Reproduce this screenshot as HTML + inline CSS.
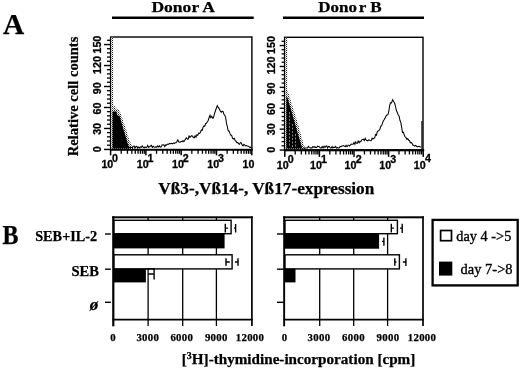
<!DOCTYPE html>
<html><head><meta charset="utf-8">
<style>
html,body{margin:0;padding:0;background:#fff;}
body{width:520px;height:368px;overflow:hidden;font-family:"Liberation Serif",serif;}
svg{display:block;will-change:transform;}
text{font-family:"Liberation Serif",serif;fill:#000;}
.b{font-weight:bold;stroke:#000;stroke-width:0.25px;}
.sn{font-family:"Liberation Sans",sans-serif;font-weight:bold;font-size:10.7px;stroke:#000;stroke-width:0.3px;}
</style></head><body>
<svg width="520" height="368" viewBox="0 0 520 368">
<defs>
<pattern id="dz" width="2" height="2" patternUnits="userSpaceOnUse"><rect width="2" height="2" fill="#fff"/><rect width="1" height="1" fill="#222"/><rect x="1" y="1" width="1" height="1" fill="#888"/></pattern>
</defs>
<rect width="520" height="368" fill="#fff"/>
<!-- panel letters -->
<text x="2.9" y="33.8" class="b" font-size="28.6" textLength="21.2" lengthAdjust="spacingAndGlyphs">A</text>
<text x="2.4" y="243.6" class="b" font-size="26.8" textLength="16" lengthAdjust="spacingAndGlyphs">B</text>
<!-- Donor headers -->
<text x="183.2" y="12" class="b" font-size="15.3" text-anchor="middle" textLength="63.5" lengthAdjust="spacingAndGlyphs">Donor A</text>
<rect x="112" y="16.5" width="141.7" height="2.5" fill="#000"/>
<text x="349.9" y="12.4" class="b" font-size="15.3" text-anchor="middle" textLength="63.5" lengthAdjust="spacingAndGlyphs">Dono<tspan dx="1.6">r</tspan> B</text>
<rect x="283" y="16.5" width="141" height="2.5" fill="#000"/>

<!-- Plot A -->
<rect x="110.6" y="37" width="141.3" height="112.7" fill="#fff" stroke="#000" stroke-width="1.4"/>
<rect x="111.3" y="37.7" width="1.9" height="111" fill="url(#dz)"/>
<polygon points="112.3,149 112.3,105.6 114.5,106 116,108.5 118.5,109.5 120.5,113 125.4,127.6 129.4,140.6 132.7,147 134,149" fill="url(#dz)"/>
<polygon points="112.6,148.6 112.6,111.5 116.4,111.5 117.2,115 119.7,116.2 122.9,127.6 125.4,135.7 127.8,143.9 129.4,148.6" fill="#000"/>
<polyline points="129.0,146.8 129.9,147.6 130.7,147.1 131.6,147.6 132.4,147.7 133.3,146.2 134.1,146.0 135.0,148.0 135.9,146.5 136.8,146.4 137.7,148.0 138.6,147.0 139.5,147.9 140.5,146.9 141.4,147.3 142.3,146.0 143.2,147.2 144.1,147.8 145.0,146.9 145.9,147.4 146.8,147.2 147.7,145.5 148.6,147.3 149.5,146.8 150.5,146.0 151.4,145.3 152.3,147.4 153.2,146.3 154.1,146.9 155.0,147.3 155.9,146.8 156.8,147.3 157.7,145.9 158.6,146.9 159.4,145.9 160.3,147.1 161.2,146.9 162.1,144.8 163.0,144.9 163.9,144.8 164.8,146.5 165.6,144.9 166.5,145.2 167.4,144.1 168.2,144.4 169.1,143.8 170.0,143.5 170.9,143.8 171.7,143.4 172.6,143.9 173.5,143.0 174.3,143.3 175.2,142.8 176.1,142.8 176.9,141.6 177.8,139.9 178.7,141.8 179.5,142.2 180.4,142.1 181.3,141.3 182.1,141.8 183.0,140.5 183.9,141.6 184.8,140.3 185.6,138.9 186.5,137.8 187.4,139.2 188.2,139.0 189.1,136.0 190.0,137.3 190.9,136.3 191.7,135.7 192.6,136.2 193.4,137.5 194.3,137.8 195.1,135.7 196.0,137.3 196.9,134.7 197.8,135.2 198.7,133.1 199.5,133.3 200.4,132.4 201.3,130.0 202.2,130.3 203.0,127.5 203.9,125.9 204.8,126.2 205.6,123.7 206.5,123.1 207.4,121.8 208.2,120.5 209.1,117.5 210.0,115.3 210.8,117.6 211.7,116.3 212.6,118.1 213.4,118.0 214.4,113.8 215.4,111.0 216.3,108.3 217.3,105.7 218.3,107.4 219.4,109.1 220.4,111.1 221.3,112.2 222.1,111.4 223.0,111.5 223.9,114.3 224.7,115.1 225.6,117.3 226.5,123.4 227.3,126.5 228.2,130.9 229.1,130.9 229.9,133.4 230.8,135.2 231.6,135.2 232.5,138.1 233.4,139.0 234.3,138.4 235.2,140.7 236.0,141.2 236.9,142.6 237.8,142.6 238.7,143.8 239.5,144.2 240.4,142.6 241.3,143.0 242.1,144.9 243.0,145.9 243.9,144.4 244.8,145.2 245.6,145.9 246.5,145.5 247.4,146.0 248.2,146.2 249.1,146.6 250.0,147.5 250.8,147.1 251.5,148.0" fill="none" stroke="#000" stroke-width="1.05" stroke-linejoin="miter"/>
<rect x="110" y="148.8" width="142.6" height="1.8" fill="#000"/>
<rect x="104.0" y="148.75" width="6.5" height="1.4" fill="#000"/>
<rect x="107.0" y="144.55" width="3.5" height="1.3" fill="#000"/>
<rect x="107.0" y="140.36" width="3.5" height="1.3" fill="#000"/>
<rect x="107.0" y="136.16" width="3.5" height="1.3" fill="#000"/>
<rect x="107.0" y="131.97" width="3.5" height="1.3" fill="#000"/>
<rect x="104.0" y="127.77" width="6.5" height="1.4" fill="#000"/>
<rect x="107.0" y="123.57" width="3.5" height="1.3" fill="#000"/>
<rect x="107.0" y="119.38" width="3.5" height="1.3" fill="#000"/>
<rect x="107.0" y="115.18" width="3.5" height="1.3" fill="#000"/>
<rect x="107.0" y="110.99" width="3.5" height="1.3" fill="#000"/>
<rect x="104.0" y="106.79" width="6.5" height="1.4" fill="#000"/>
<rect x="107.0" y="102.59" width="3.5" height="1.3" fill="#000"/>
<rect x="107.0" y="98.40" width="3.5" height="1.3" fill="#000"/>
<rect x="107.0" y="94.20" width="3.5" height="1.3" fill="#000"/>
<rect x="107.0" y="90.01" width="3.5" height="1.3" fill="#000"/>
<rect x="104.0" y="85.81" width="6.5" height="1.4" fill="#000"/>
<rect x="107.0" y="81.61" width="3.5" height="1.3" fill="#000"/>
<rect x="107.0" y="77.42" width="3.5" height="1.3" fill="#000"/>
<rect x="107.0" y="73.22" width="3.5" height="1.3" fill="#000"/>
<rect x="107.0" y="69.03" width="3.5" height="1.3" fill="#000"/>
<rect x="104.0" y="64.83" width="6.5" height="1.4" fill="#000"/>
<rect x="107.0" y="60.63" width="3.5" height="1.3" fill="#000"/>
<rect x="107.0" y="56.44" width="3.5" height="1.3" fill="#000"/>
<rect x="107.0" y="52.24" width="3.5" height="1.3" fill="#000"/>
<rect x="107.0" y="48.05" width="3.5" height="1.3" fill="#000"/>
<rect x="104.0" y="43.85" width="6.5" height="1.4" fill="#000"/>
<rect x="107.0" y="39.65" width="3.5" height="1.3" fill="#000"/>
<rect x="109.85" y="149.7" width="1.5" height="5.6" fill="#000"/>
<rect x="120.58" y="149.7" width="1.3" height="4.1" fill="#000"/>
<rect x="126.79" y="149.7" width="1.3" height="4.1" fill="#000"/>
<rect x="131.20" y="149.7" width="1.3" height="4.1" fill="#000"/>
<rect x="134.62" y="149.7" width="1.3" height="4.1" fill="#000"/>
<rect x="137.42" y="149.7" width="1.3" height="4.1" fill="#000"/>
<rect x="139.78" y="149.7" width="1.3" height="4.1" fill="#000"/>
<rect x="141.83" y="149.7" width="1.3" height="4.1" fill="#000"/>
<rect x="143.63" y="149.7" width="1.3" height="4.1" fill="#000"/>
<rect x="145.15" y="149.7" width="1.5" height="5.6" fill="#000"/>
<rect x="155.88" y="149.7" width="1.3" height="4.1" fill="#000"/>
<rect x="162.09" y="149.7" width="1.3" height="4.1" fill="#000"/>
<rect x="166.50" y="149.7" width="1.3" height="4.1" fill="#000"/>
<rect x="169.92" y="149.7" width="1.3" height="4.1" fill="#000"/>
<rect x="172.72" y="149.7" width="1.3" height="4.1" fill="#000"/>
<rect x="175.08" y="149.7" width="1.3" height="4.1" fill="#000"/>
<rect x="177.13" y="149.7" width="1.3" height="4.1" fill="#000"/>
<rect x="178.93" y="149.7" width="1.3" height="4.1" fill="#000"/>
<rect x="180.45" y="149.7" width="1.5" height="5.6" fill="#000"/>
<rect x="191.18" y="149.7" width="1.3" height="4.1" fill="#000"/>
<rect x="197.39" y="149.7" width="1.3" height="4.1" fill="#000"/>
<rect x="201.80" y="149.7" width="1.3" height="4.1" fill="#000"/>
<rect x="205.22" y="149.7" width="1.3" height="4.1" fill="#000"/>
<rect x="208.02" y="149.7" width="1.3" height="4.1" fill="#000"/>
<rect x="210.38" y="149.7" width="1.3" height="4.1" fill="#000"/>
<rect x="212.43" y="149.7" width="1.3" height="4.1" fill="#000"/>
<rect x="214.23" y="149.7" width="1.3" height="4.1" fill="#000"/>
<rect x="215.75" y="149.7" width="1.5" height="5.6" fill="#000"/>
<rect x="226.48" y="149.7" width="1.3" height="4.1" fill="#000"/>
<rect x="232.69" y="149.7" width="1.3" height="4.1" fill="#000"/>
<rect x="237.10" y="149.7" width="1.3" height="4.1" fill="#000"/>
<rect x="240.52" y="149.7" width="1.3" height="4.1" fill="#000"/>
<rect x="243.32" y="149.7" width="1.3" height="4.1" fill="#000"/>
<rect x="245.68" y="149.7" width="1.3" height="4.1" fill="#000"/>
<rect x="247.73" y="149.7" width="1.3" height="4.1" fill="#000"/>
<rect x="249.53" y="149.7" width="1.3" height="4.1" fill="#000"/>
<rect x="251.05" y="149.7" width="1.5" height="5.6" fill="#000"/>
<text x="113.3" y="167.8" class="sn" text-anchor="end">10</text>
<text x="112.1" y="162.3" class="sn">0</text>
<text x="148.6" y="167.8" class="sn" text-anchor="end">10</text>
<text x="147.4" y="162.3" class="sn">1</text>
<text x="183.9" y="167.8" class="sn" text-anchor="end">10</text>
<text x="182.7" y="162.3" class="sn">2</text>
<text x="219.2" y="167.8" class="sn" text-anchor="end">10</text>
<text x="218.0" y="162.3" class="sn">3</text>
<text x="254.5" y="167.8" class="sn" text-anchor="end">10</text>
<text transform="translate(100.7,149.4) rotate(-90)" class="sn" text-anchor="middle">0</text>
<text transform="translate(100.7,128.9) rotate(-90)" class="sn" text-anchor="middle">30</text>
<text transform="translate(100.7,108.6) rotate(-90)" class="sn" text-anchor="middle">60</text>
<text transform="translate(100.7,88.2) rotate(-90)" class="sn" text-anchor="middle">90</text>
<text transform="translate(100.7,65.0) rotate(-90)" class="sn" text-anchor="middle">120</text>
<text transform="translate(100.7,44.6) rotate(-90)" class="sn" text-anchor="middle">150</text>

<!-- Plot B -->
<rect x="284.6" y="37.3" width="138.4" height="113" fill="#fff" stroke="#000" stroke-width="1.4"/>
<rect x="285.3" y="37.7" width="1.9" height="111" fill="url(#dz)"/>
<polygon points="286,149 286,89 287.5,91 289.5,96 291,101.3 295.4,115.4 299.8,130.6 303.7,144.8 305.5,149" fill="url(#dz)"/>
<polygon points="286.4,148.6 286.4,97 287.5,97.5 288.9,102.4 293.3,117.6 297.6,132.8 300.9,143.7 302.4,148.6" fill="#000"/>
<path d="M289.5 112V147M292.5 124V147M295.5 134V147" stroke="#fff" stroke-width="0.5" stroke-dasharray="2 1.5"/>
<polyline points="303.0,148.0 303.9,148.0 304.8,148.0 305.7,148.0 306.6,148.0 307.5,148.0 308.4,146.4 309.3,147.4 310.2,148.0 311.1,147.8 312.0,148.0 312.9,146.5 313.9,147.3 314.8,146.7 315.7,147.4 316.6,147.5 317.6,146.1 318.5,146.6 319.4,146.8 320.4,148.0 321.3,147.9 322.2,146.4 323.1,147.9 324.1,146.3 325.0,147.5 325.9,146.3 326.8,146.0 327.6,148.0 328.5,146.5 329.4,146.5 330.3,148.0 331.2,148.0 332.1,146.6 332.9,148.0 333.8,147.2 334.7,147.5 335.6,146.4 336.5,148.0 337.4,147.5 338.2,148.0 339.1,148.0 340.0,146.5 340.9,146.6 341.8,146.0 342.6,145.9 343.5,145.6 344.4,146.1 345.2,146.7 346.1,145.2 347.0,146.7 347.9,145.6 348.8,145.1 349.6,146.0 350.5,144.9 351.4,144.1 352.2,144.2 353.1,144.3 354.0,142.4 354.9,144.4 355.7,141.9 356.6,143.3 357.4,143.3 358.2,141.1 359.1,142.7 359.9,141.4 360.8,141.7 361.7,139.8 362.6,139.4 363.4,139.2 364.3,140.6 365.2,138.3 366.1,139.9 366.9,140.6 367.8,140.9 368.7,139.8 369.5,140.1 370.4,140.8 371.3,140.6 372.1,138.2 373.0,139.0 373.8,138.4 374.7,137.8 375.6,134.4 376.4,135.2 377.3,131.8 378.1,131.0 379.0,130.3 379.9,129.3 380.8,126.1 381.6,125.8 382.5,123.1 383.4,120.8 384.3,119.5 385.2,117.7 386.0,116.1 386.9,114.9 387.8,114.8 388.7,112.0 389.5,106.6 390.4,102.8 391.5,102.9 392.6,99.7 393.6,101.5 394.7,103.3 395.6,107.0 396.4,110.5 397.3,112.5 398.2,114.7 399.1,116.1 400.0,120.5 400.8,122.4 401.7,127.6 402.5,132.5 403.4,132.2 404.3,135.0 405.1,136.9 406.0,137.5 406.9,139.3 407.8,138.5 408.6,140.2 409.5,140.4 410.3,142.9 411.2,142.5 412.1,143.4 412.9,145.2 413.8,145.3 414.7,146.1 415.5,145.4 416.4,146.0 417.3,146.8 418.2,146.4 419.0,146.2 419.9,146.7 420.8,147.2" fill="none" stroke="#000" stroke-width="1.05" stroke-linejoin="miter"/>
<line x1="421.9" y1="121" x2="421.9" y2="149" stroke="#000" stroke-width="1.1"/>
<rect x="284" y="149.1" width="140.2" height="2.2" fill="#000"/>
<rect x="279.7" y="149.35" width="4.6" height="1.4" fill="#000"/>
<rect x="281.6" y="145.17" width="2.7" height="1.3" fill="#000"/>
<rect x="281.6" y="140.99" width="2.7" height="1.3" fill="#000"/>
<rect x="281.6" y="136.81" width="2.7" height="1.3" fill="#000"/>
<rect x="281.6" y="132.63" width="2.7" height="1.3" fill="#000"/>
<rect x="279.7" y="128.45" width="4.6" height="1.4" fill="#000"/>
<rect x="281.6" y="124.27" width="2.7" height="1.3" fill="#000"/>
<rect x="281.6" y="120.09" width="2.7" height="1.3" fill="#000"/>
<rect x="281.6" y="115.91" width="2.7" height="1.3" fill="#000"/>
<rect x="281.6" y="111.73" width="2.7" height="1.3" fill="#000"/>
<rect x="279.7" y="107.55" width="4.6" height="1.4" fill="#000"/>
<rect x="281.6" y="103.37" width="2.7" height="1.3" fill="#000"/>
<rect x="281.6" y="99.19" width="2.7" height="1.3" fill="#000"/>
<rect x="281.6" y="95.01" width="2.7" height="1.3" fill="#000"/>
<rect x="281.6" y="90.83" width="2.7" height="1.3" fill="#000"/>
<rect x="279.7" y="86.65" width="4.6" height="1.4" fill="#000"/>
<rect x="281.6" y="82.47" width="2.7" height="1.3" fill="#000"/>
<rect x="281.6" y="78.29" width="2.7" height="1.3" fill="#000"/>
<rect x="281.6" y="74.11" width="2.7" height="1.3" fill="#000"/>
<rect x="281.6" y="69.93" width="2.7" height="1.3" fill="#000"/>
<rect x="279.7" y="65.75" width="4.6" height="1.4" fill="#000"/>
<rect x="281.6" y="61.57" width="2.7" height="1.3" fill="#000"/>
<rect x="281.6" y="57.39" width="2.7" height="1.3" fill="#000"/>
<rect x="281.6" y="53.21" width="2.7" height="1.3" fill="#000"/>
<rect x="281.6" y="49.03" width="2.7" height="1.3" fill="#000"/>
<rect x="279.7" y="44.85" width="4.6" height="1.4" fill="#000"/>
<rect x="281.6" y="40.67" width="2.7" height="1.3" fill="#000"/>
<rect x="284.05" y="150.4" width="1.5" height="6.5" fill="#000"/>
<rect x="294.57" y="150.4" width="1.3" height="4.1" fill="#000"/>
<rect x="300.66" y="150.4" width="1.3" height="4.1" fill="#000"/>
<rect x="304.98" y="150.4" width="1.3" height="4.1" fill="#000"/>
<rect x="308.33" y="150.4" width="1.3" height="4.1" fill="#000"/>
<rect x="311.07" y="150.4" width="1.3" height="4.1" fill="#000"/>
<rect x="313.39" y="150.4" width="1.3" height="4.1" fill="#000"/>
<rect x="315.40" y="150.4" width="1.3" height="4.1" fill="#000"/>
<rect x="317.17" y="150.4" width="1.3" height="4.1" fill="#000"/>
<rect x="318.65" y="150.4" width="1.5" height="6.5" fill="#000"/>
<rect x="329.17" y="150.4" width="1.3" height="4.1" fill="#000"/>
<rect x="335.26" y="150.4" width="1.3" height="4.1" fill="#000"/>
<rect x="339.58" y="150.4" width="1.3" height="4.1" fill="#000"/>
<rect x="342.93" y="150.4" width="1.3" height="4.1" fill="#000"/>
<rect x="345.67" y="150.4" width="1.3" height="4.1" fill="#000"/>
<rect x="347.99" y="150.4" width="1.3" height="4.1" fill="#000"/>
<rect x="350.00" y="150.4" width="1.3" height="4.1" fill="#000"/>
<rect x="351.77" y="150.4" width="1.3" height="4.1" fill="#000"/>
<rect x="353.25" y="150.4" width="1.5" height="6.5" fill="#000"/>
<rect x="363.77" y="150.4" width="1.3" height="4.1" fill="#000"/>
<rect x="369.86" y="150.4" width="1.3" height="4.1" fill="#000"/>
<rect x="374.18" y="150.4" width="1.3" height="4.1" fill="#000"/>
<rect x="377.53" y="150.4" width="1.3" height="4.1" fill="#000"/>
<rect x="380.27" y="150.4" width="1.3" height="4.1" fill="#000"/>
<rect x="382.59" y="150.4" width="1.3" height="4.1" fill="#000"/>
<rect x="384.60" y="150.4" width="1.3" height="4.1" fill="#000"/>
<rect x="386.37" y="150.4" width="1.3" height="4.1" fill="#000"/>
<rect x="387.85" y="150.4" width="1.5" height="6.5" fill="#000"/>
<rect x="398.37" y="150.4" width="1.3" height="4.1" fill="#000"/>
<rect x="404.46" y="150.4" width="1.3" height="4.1" fill="#000"/>
<rect x="408.78" y="150.4" width="1.3" height="4.1" fill="#000"/>
<rect x="412.13" y="150.4" width="1.3" height="4.1" fill="#000"/>
<rect x="414.87" y="150.4" width="1.3" height="4.1" fill="#000"/>
<rect x="417.19" y="150.4" width="1.3" height="4.1" fill="#000"/>
<rect x="419.20" y="150.4" width="1.3" height="4.1" fill="#000"/>
<rect x="420.97" y="150.4" width="1.3" height="4.1" fill="#000"/>
<rect x="422.45" y="150.4" width="1.5" height="6.5" fill="#000"/>
<text x="288.6" y="168.6" class="sn" text-anchor="end">10</text>
<text x="287.8" y="163.4" class="sn">0</text>
<text x="321.9" y="168.6" class="sn" text-anchor="end">10</text>
<text x="321.1" y="163.4" class="sn">1</text>
<text x="356.5" y="168.6" class="sn" text-anchor="end">10</text>
<text x="355.7" y="163.4" class="sn">2</text>
<text x="391.1" y="168.6" class="sn" text-anchor="end">10</text>
<text x="390.3" y="163.4" class="sn">3</text>
<text x="425.7" y="168.6" class="sn" text-anchor="end">10</text>
<text x="424.9" y="162.3" class="sn">4</text>
<text transform="translate(274.7,149.8) rotate(-90)" class="sn" text-anchor="middle">0</text>
<text transform="translate(274.7,129.3) rotate(-90)" class="sn" text-anchor="middle">30</text>
<text transform="translate(274.7,109.0) rotate(-90)" class="sn" text-anchor="middle">60</text>
<text transform="translate(274.7,88.6) rotate(-90)" class="sn" text-anchor="middle">90</text>
<text transform="translate(274.7,65.4) rotate(-90)" class="sn" text-anchor="middle">120</text>
<text transform="translate(274.7,45.0) rotate(-90)" class="sn" text-anchor="middle">150</text>

<text transform="translate(78.2,96.4) rotate(-90)" class="b" font-size="14.3" text-anchor="middle" textLength="119.5" lengthAdjust="spacingAndGlyphs">Relative cell counts</text>
<text x="158.3" y="194.3" class="b" font-size="16" textLength="216" lengthAdjust="spacingAndGlyphs">Vß3-,Vß14-, Vß17-expression</text>

<!-- Panel B left -->
<g stroke="#000" stroke-width="1.3" fill="none">
<line x1="148.1" y1="217.5" x2="148.1" y2="326"/>
<line x1="182.7" y1="217.5" x2="182.7" y2="326"/>
<line x1="216.4" y1="217.5" x2="216.4" y2="326"/>
<line x1="112.4" y1="319.6" x2="252.7" y2="319.6" stroke-width="1.9"/>
<line x1="251.9" y1="216.3" x2="251.9" y2="326" stroke-width="1.7"/>
</g>
<rect x="112.2" y="216.3" width="140.4" height="2" fill="#000"/>
<rect x="112.2" y="216.3" width="2.2" height="110" fill="#000"/>
<g stroke="#000" stroke-width="1.4">
<line x1="105" y1="234" x2="110.8" y2="234"/>
<line x1="105" y1="269.2" x2="110.8" y2="269.2"/>
<line x1="105" y1="302.3" x2="110.8" y2="302.3"/>
</g>
<rect x="114" y="220.3" width="117.1" height="13.4" fill="#fff" stroke="#000" stroke-width="1.4"/>
<rect x="114" y="233.5" width="110.6" height="14.9" fill="#000"/>
<rect x="114" y="254.8" width="118.1" height="14.1" fill="#fff" stroke="#000" stroke-width="1.4"/>
<rect x="114" y="268.7" width="31.9" height="13.7" fill="#000"/>
<line x1="145" y1="268.9" x2="155" y2="268.9" stroke="#000" stroke-width="1.3"/>
<g stroke="#000" stroke-width="1.4" fill="none">
<path d="M225.3 223.7V232.4M225.3 228.1H228M235.6 224V232.4M234 228.1H235.6"/>
<path d="M226 258.2V265.7M226 262H229.8M238 258.2V265.7M235 262H238"/>
<path d="M154.1 268.7V279.6M148 274H154.1"/>
</g>

<!-- Panel B right -->
<g stroke="#000" stroke-width="1.3" fill="none">
<line x1="319.7" y1="217.5" x2="319.7" y2="326"/>
<line x1="353.7" y1="217.5" x2="353.7" y2="326"/>
<line x1="387.6" y1="217.5" x2="387.6" y2="326"/>
<line x1="283.4" y1="319.6" x2="423.8" y2="319.6" stroke-width="1.9"/>
<line x1="423" y1="216.3" x2="423" y2="326" stroke-width="1.7"/>
</g>
<rect x="283.2" y="216.3" width="140.5" height="2" fill="#000"/>
<rect x="283.2" y="216.3" width="1.9" height="110" fill="#000"/>
<g stroke="#000" stroke-width="1.4">
<line x1="277" y1="234" x2="284" y2="234"/>
<line x1="277" y1="269.2" x2="284" y2="269.2"/>
<line x1="277" y1="302.3" x2="284" y2="302.3"/>
</g>
<rect x="285" y="220.3" width="112.4" height="13.4" fill="#fff" stroke="#000" stroke-width="1.4"/>
<rect x="285" y="233.5" width="94.1" height="15.2" fill="#000"/>
<rect x="285" y="254.8" width="114.4" height="14.1" fill="#fff" stroke="#000" stroke-width="1.4"/>
<rect x="285" y="268.7" width="10.5" height="13.7" fill="#000"/>
<g stroke="#000" stroke-width="1.4" fill="none">
<path d="M391.3 223.7V232.4M391.3 228.1H393.9M402.2 223.7V232.9M400 228.1H402.2"/>
<path d="M394.8 258.2V265.8M394.8 262H396.4M405.9 258.2V266M402.8 262H405.9"/>
<path d="M383.9 237.4V245.7M382 241.4H383.9"/>
</g>

<!-- category labels -->
<text x="97.2" y="241.2" class="b" font-size="14" text-anchor="end" textLength="62" lengthAdjust="spacingAndGlyphs">SEB+IL-2</text>
<text x="99" y="275.8" class="b" font-size="14" text-anchor="end" textLength="27.5" lengthAdjust="spacingAndGlyphs">SEB</text>
<text x="94" y="309.8" class="b" font-size="17" font-style="italic" text-anchor="middle">ø</text>

<!-- x tick labels -->
<g class="b" font-size="10.8" text-anchor="middle" letter-spacing="0.3" stroke="#000" stroke-width="0.3">
<text x="113" y="340.8">0</text><text x="147.8" y="340.8">3000</text><text x="181.8" y="340.8">6000</text><text x="216.3" y="340.8">9000</text><text x="250" y="340.8">12000</text>
<text x="284.5" y="340.8">0</text><text x="319" y="340.8">3000</text><text x="353.5" y="340.8">6000</text><text x="388" y="340.8">9000</text><text x="422" y="340.8">12000</text>
</g>
<text x="181.8" y="363.8" class="b" font-size="14.5" textLength="233.5" lengthAdjust="spacingAndGlyphs">[<tspan font-size="9.5" dy="-4.5">3</tspan><tspan dy="4.5">H]-thymidine-incorporation [cpm]</tspan></text>

<!-- legend -->
<rect x="432.6" y="219.9" width="85.1" height="65.5" fill="#fff" stroke="#000" stroke-width="2.3"/>
<rect x="440.6" y="230.5" width="10.9" height="10.2" fill="#fff" stroke="#000" stroke-width="1.7"/>
<rect x="439" y="261.6" width="13.3" height="14" fill="#000"/>
<text x="456.3" y="241.3" font-size="15" textLength="55" lengthAdjust="spacingAndGlyphs" stroke="#000" stroke-width="0.35">day 4 -&gt;5</text>
<text x="460.6" y="274.3" font-size="15" textLength="52" lengthAdjust="spacingAndGlyphs" stroke="#000" stroke-width="0.35">day 7-&gt;8</text>
</svg>
</body></html>
